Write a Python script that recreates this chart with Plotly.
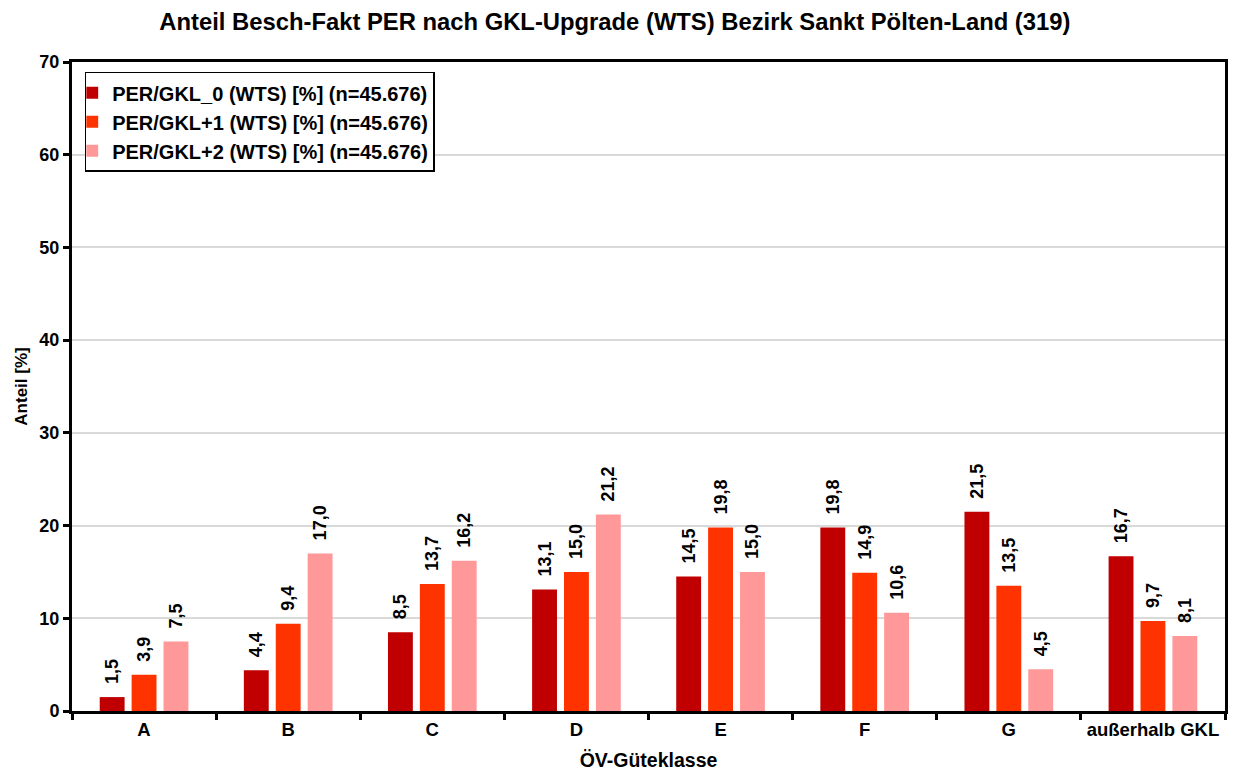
import plotly.graph_objects as go

categories = ["A", "B", "C", "D", "E", "F", "G", "außerhalb GKL"]
gkl0 = [1.5, 4.4, 8.5, 13.1, 14.5, 19.8, 21.5, 16.7]
gkl1 = [3.9, 9.4, 13.7, 15.0, 19.8, 14.9, 13.5, 9.7]
gkl2 = [7.5, 17.0, 16.2, 21.2, 15.0, 10.6, 4.5, 8.1]
names = ["PER/GKL_0 (WTS) [%] (n=45.676)",
         "PER/GKL+1 (WTS) [%] (n=45.676)",
         "PER/GKL+2 (WTS) [%] (n=45.676)"]
colors = ["#C00000", "#FF3300", "#FF9999"]

FONT = "Liberation Sans, Arial, sans-serif"

fig = go.Figure()
for vals, name, col in zip([gkl0, gkl1, gkl2], names, colors):
    fig.add_trace(go.Bar(
        x=categories, y=vals, name=f"<b>{name}</b>",
        marker=dict(color=col, line=dict(width=0)),
        text=["\u00a0\u00a0" + f"{v:.1f}".replace(".", ",") for v in vals],
        texttemplate="<b>%{text}</b>",
        textposition="outside", textangle=-90, constraintext="none",
        textfont=dict(family=FONT, size=18, color="black"),
        cliponaxis=False,
    ))

fig.update_layout(
    width=1236, height=774,
    paper_bgcolor="white", plot_bgcolor="white",
    margin=dict(l=64, r=19, t=54, b=71, autoexpand=False),
    barmode="group", bargap=0.336, bargroupgap=0.22,
    font=dict(family=FONT, size=16, color="black"),
    title=dict(text="<b>Anteil Besch-Fakt PER nach GKL-Upgrade (WTS) Bezirk Sankt Pölten-Land (319)</b>",
               x=0.491, xanchor="center", y=0.982, yanchor="middle",
               font=dict(family=FONT, size=23.8, color="black")),
    legend=dict(x=0.011, y=0.985, xanchor="left", yanchor="top",
                bgcolor="white", bordercolor="black", borderwidth=1.5,
                font=dict(family=FONT, size=20, color="black"),
                itemwidth=30, tracegroupgap=2, indentation=-14),
)
fig.update_xaxes(
    automargin=False,
    showline=True, linecolor="black", linewidth=3, mirror=True,
    ticks="outside", tickson="boundaries", ticklen=6, tickwidth=3, tickcolor="black",
    tickfont=dict(family=FONT, size=18.5, color="black"),
    tickvals=categories, ticktext=[f"<b>{c}</b>" for c in categories],
    title=dict(text="<b>ÖV-Güteklasse</b>", standoff=15,
               font=dict(family=FONT, size=19.5, color="black")),
)
fig.update_yaxes(
    automargin=False,
    range=[0, 70], dtick=10,
    showline=True, linecolor="black", linewidth=3, mirror=True,
    showgrid=True, gridcolor="#D9D9D9", gridwidth=1.5,
    ticks="outside", ticklen=6, tickwidth=3, tickcolor="black",
    tickfont=dict(family=FONT, size=18, color="black"),
    tickprefix="<b>", ticksuffix="</b>",
    title=dict(text="<b>Anteil [%]</b>", standoff=8,
               font=dict(family=FONT, size=17, color="black")),
    zeroline=False,
)

fig.write_html("out.html")
